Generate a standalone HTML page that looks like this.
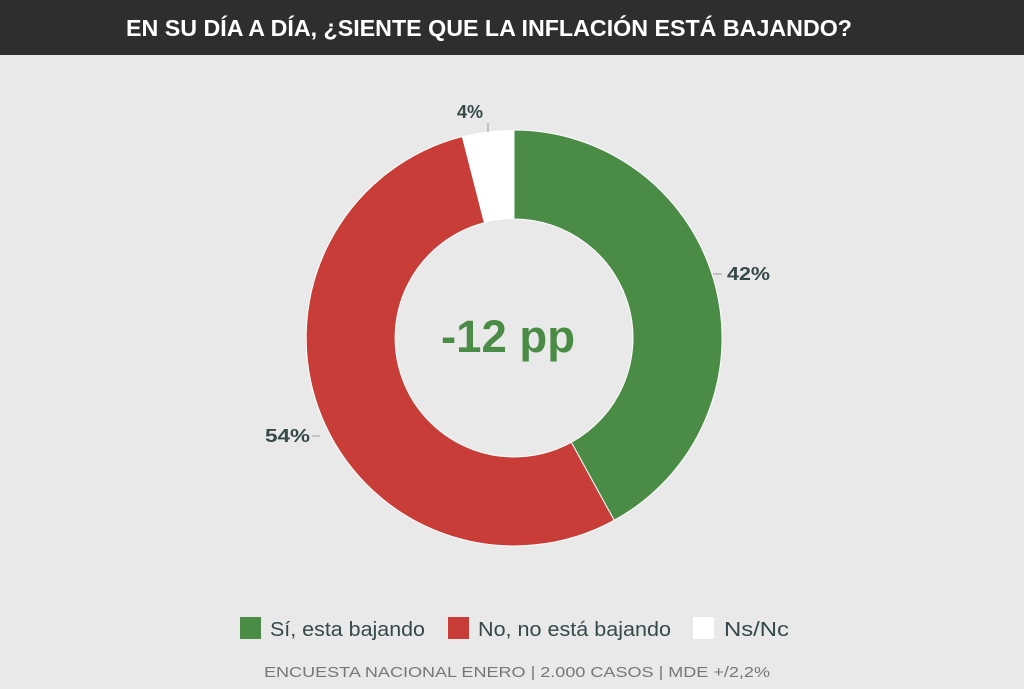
<!DOCTYPE html>
<html><head><meta charset="utf-8"><style>
body{margin:0;width:1024px;height:689px;background:#e9e9e9;overflow:hidden}
</style></head><body>
<svg width="1024" height="689" xmlns="http://www.w3.org/2000/svg" style="display:block">
<rect width="1024" height="689" fill="#e9e9e9"/>
<rect width="1024" height="55" fill="#2e2e2e"/>
<text x="489" y="36" text-anchor="middle" font-family="Liberation Sans, sans-serif" font-weight="bold" font-size="23" fill="#ffffff" textLength="726" lengthAdjust="spacingAndGlyphs">EN SU DÍA A DÍA, ¿SIENTE QUE LA INFLACIÓN ESTÁ BAJANDO?</text>
<path d="M514,130 A208,208 0 0 1 614.2,520.3 L571.3,442.3 A119,119 0 0 0 514,219 Z" fill="#4a8c46" stroke="#ffffff" stroke-width="1"/>
<path d="M614.2,520.3 A208,208 0 1 1 462.3,136.5 L484.4,222.7 A119,119 0 1 0 571.3,442.3 Z" fill="#c83d37" stroke="#ffffff" stroke-width="1"/>
<path d="M462.3,136.5 A208,208 0 0 1 514,130 L514,219 A119,119 0 0 0 484.4,222.7 Z" fill="#ffffff"/>
<g font-family="Liberation Sans, sans-serif" font-size="18" font-weight="bold" fill="#35494a">
<text x="470" y="118" text-anchor="middle">4%</text>
<line x1="488" y1="123" x2="488" y2="132" stroke="#999"/>
<text x="727" y="280" textLength="43" lengthAdjust="spacingAndGlyphs">42%</text>
<line x1="713" y1="274" x2="722" y2="274" stroke="#999"/>
<text x="265" y="442" textLength="45" lengthAdjust="spacingAndGlyphs">54%</text>
<line x1="312" y1="436" x2="320" y2="436" stroke="#999"/>
</g>
<text x="508" y="352" text-anchor="middle" font-family="Liberation Sans, sans-serif" font-weight="bold" font-size="45" fill="#4a8c46" textLength="134" lengthAdjust="spacingAndGlyphs">-12 pp</text>
<g font-family="Liberation Sans, sans-serif" font-size="20" fill="#35494a">
<rect x="240" y="617" width="21" height="22" fill="#4a8c46"/>
<text x="270" y="636" textLength="155" lengthAdjust="spacingAndGlyphs">Sí, esta bajando</text>
<rect x="448" y="617" width="21" height="22" fill="#c83d37"/>
<text x="478" y="636" textLength="193" lengthAdjust="spacingAndGlyphs">No, no está bajando</text>
<rect x="693" y="617" width="21" height="22" fill="#ffffff"/>
<text x="724" y="636" textLength="65" lengthAdjust="spacingAndGlyphs">Ns/Nc</text>
</g>
<text x="517" y="677" text-anchor="middle" font-family="Liberation Sans, sans-serif" font-size="15" fill="#777" textLength="506" lengthAdjust="spacingAndGlyphs">ENCUESTA NACIONAL ENERO | 2.000 CASOS | MDE +/2,2%</text>
</svg>
</body></html>
